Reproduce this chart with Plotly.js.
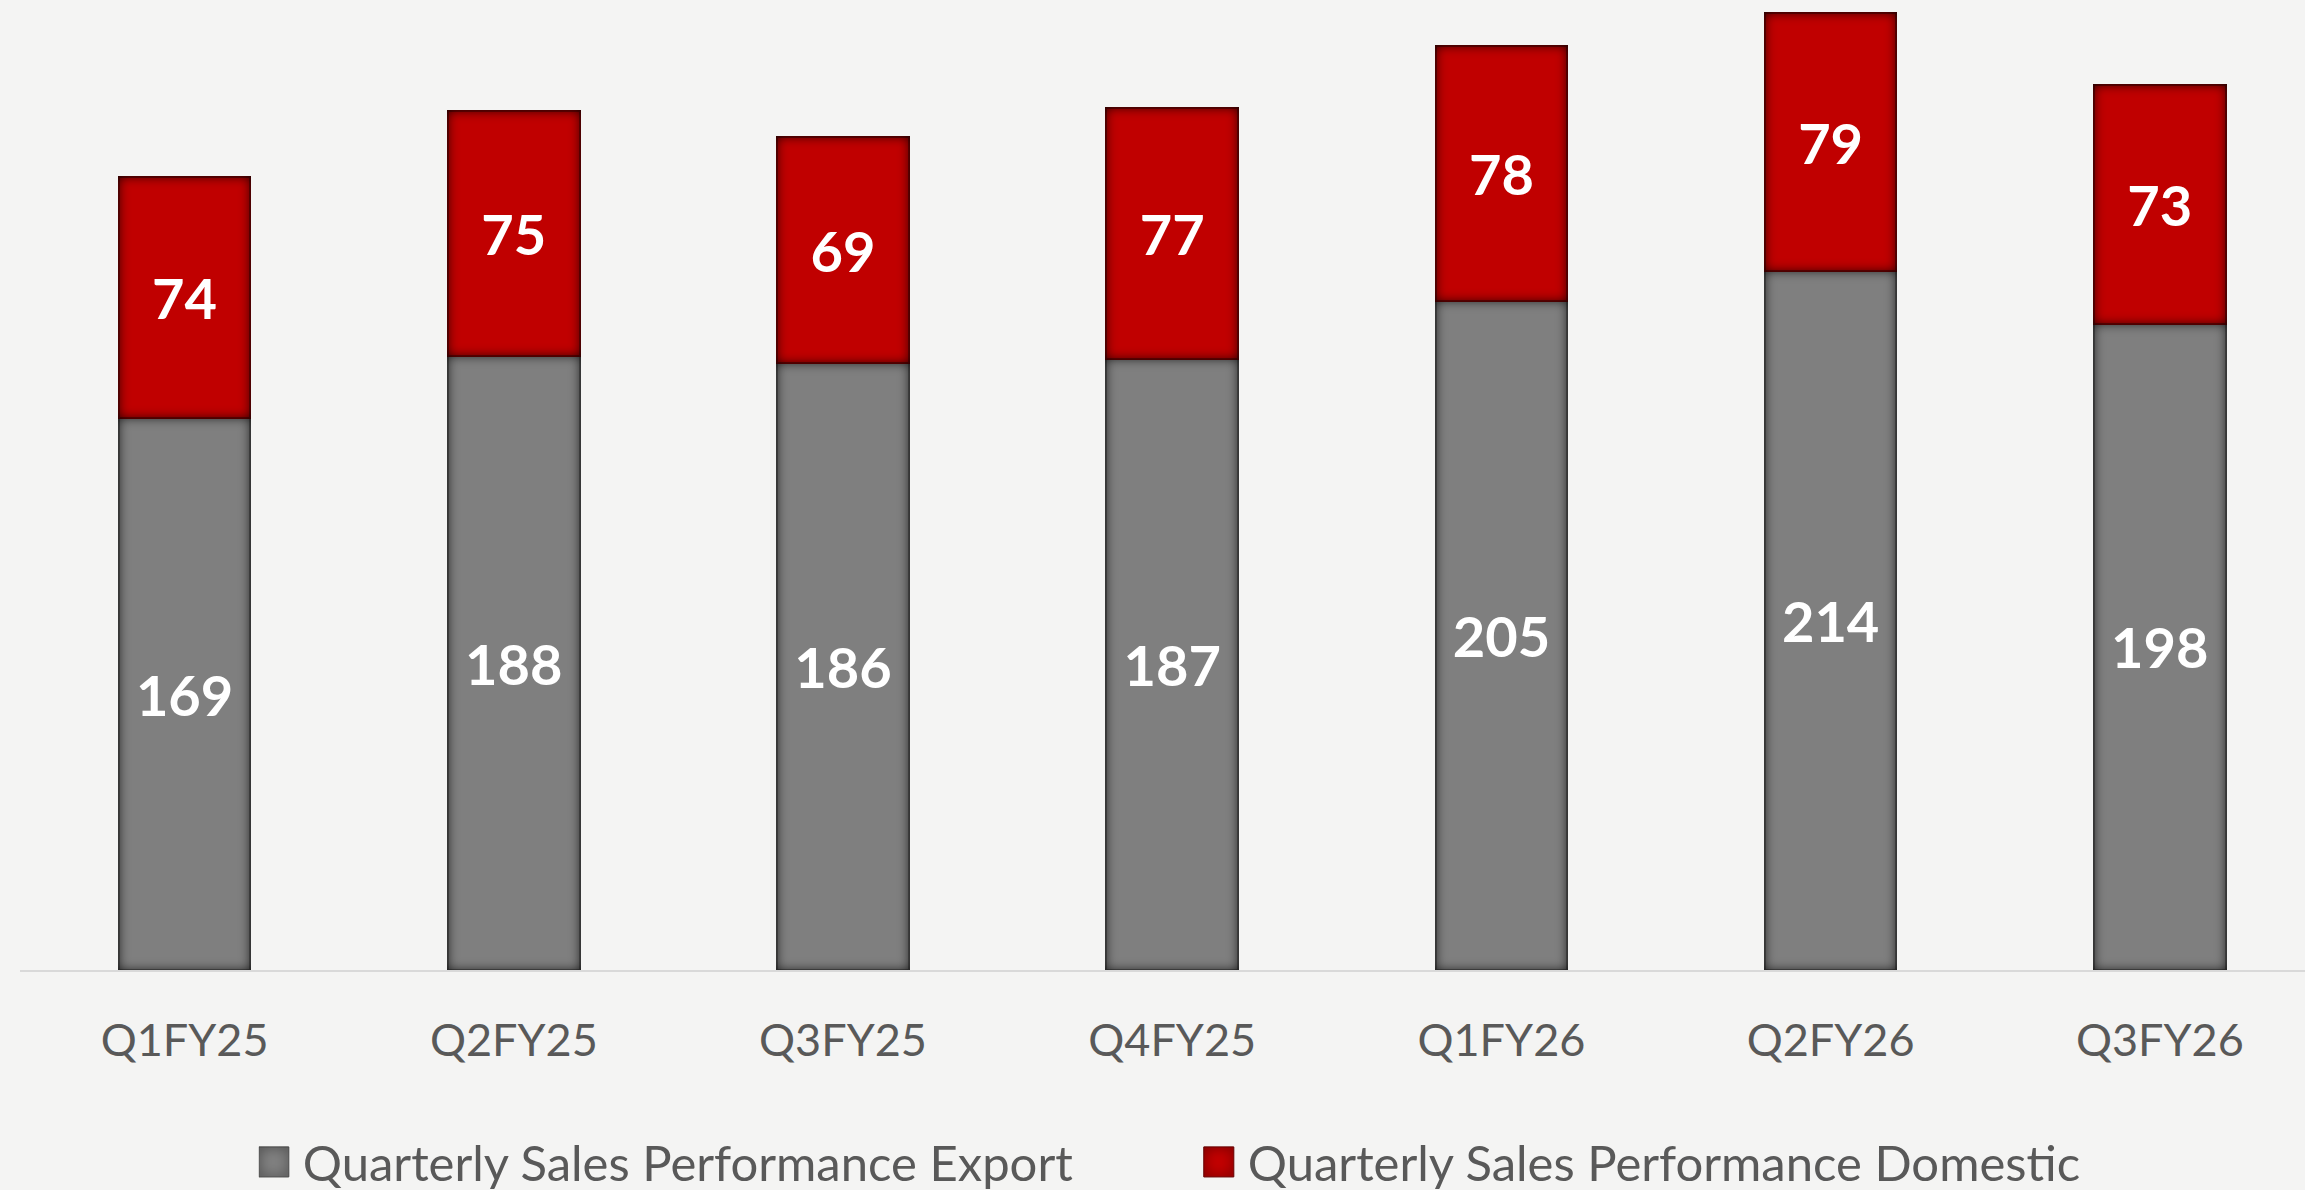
<!DOCTYPE html>
<html>
<head>
<meta charset="utf-8">
<script src="https://cdn.plot.ly/plotly-3.0.1.min.js"></script>
<style>
  html, body { margin: 0; padding: 0; background: #f4f4f3; }
  #chart { width: 2305px; height: 1190px; }
</style>
</head>
<body>
<svg width="0" height="0" style="position:absolute">
  <defs>
    <filter id="insetShadow" x="-10%" y="-10%" width="120%" height="120%" color-interpolation-filters="sRGB">
      <feFlood flood-color="#000000" flood-opacity="0.85" result="flood"/>
      <feComposite in="flood" in2="SourceAlpha" operator="out" result="outside"/>
      <feGaussianBlur in="outside" stdDeviation="6" result="blur"/>
      <feComposite in="blur" in2="SourceAlpha" operator="in" result="inner"/>
      <feMerge><feMergeNode in="SourceGraphic"/><feMergeNode in="inner"/></feMerge>
    </filter>
  </defs>
</svg>
<div id="chart"></div>
<script>
const quarters = ["Q1FY25", "Q2FY25", "Q3FY25", "Q4FY25", "Q1FY26", "Q2FY26", "Q3FY26"];
const exportSales = [169, 188, 186, 187, 205, 214, 198];
const domesticSales = [74, 75, 69, 77, 78, 79, 73];
const seriesNames = ["Quarterly Sales Performance Export", "Quarterly Sales Performance Domestic"];

const FONT = "Lato, 'Open Sans', 'DejaVu Sans', sans-serif";

const traces = [
  {
    type: "bar",
    name: seriesNames[0],
    x: quarters,
    y: exportSales,
    text: exportSales.map(String),
    textposition: "inside",
    insidetextanchor: "middle",
    textangle: 0,
    constraintext: "none",
    textfont: { family: FONT, size: 56, color: "#ffffff", weight: 700 },
    marker: { color: "#7f7f7f", line: { color: "#5a5a5a", width: 2 } },
    hoverinfo: "skip"
  },
  {
    type: "bar",
    name: seriesNames[1],
    x: quarters,
    y: domesticSales,
    text: domesticSales.map(String),
    textposition: "inside",
    insidetextanchor: "middle",
    textangle: 0,
    constraintext: "none",
    textfont: { family: FONT, size: 56, color: "#ffffff", weight: 700 },
    marker: { color: "#c00000", line: { color: "#800000", width: 2 } },
    hoverinfo: "skip"
  }
];

const layout = {
  width: 2305,
  height: 1190,
  margin: { l: 20, r: 0, t: 0, b: 220, pad: 0, autoexpand: false },
  paper_bgcolor: "#f4f4f3",
  plot_bgcolor: "rgba(0,0,0,0)",
  barmode: "stack",
  bargap: 0.6,
  font: { family: FONT, color: "#595959" },
  xaxis: {
    type: "category",
    range: [-0.5, 6.441],
    showline: true,
    linecolor: "#d9d9d9",
    linewidth: 2,
    ticks: "",
    showgrid: false,
    zeroline: false,
    tickfont: { family: FONT, size: 45, color: "#595959" },
    ticklabelstandoff: 30,
    automargin: false,
    fixedrange: true
  },
  yaxis: {
    range: [0, 297.1],
    showgrid: false,
    zeroline: false,
    showline: false,
    showticklabels: false,
    ticks: "",
    automargin: false,
    fixedrange: true
  },
  showlegend: true,
  legend: {
    orientation: "h",
    x: 0.1045,
    xanchor: "left",
    y: -0.198,
    yanchor: "middle",
    entrywidth: 900,
    font: { family: FONT, size: 49, color: "#595959" },
    bgcolor: "rgba(0,0,0,0)",
    traceorder: "normal"
  }
};

Plotly.newPlot("chart", traces, layout, { displayModeBar: false, staticPlot: true }).then(function (gd) {
  gd.querySelectorAll("g.point path").forEach(function (p) {
    p.setAttribute("filter", "url(#insetShadow)");
    p.style.filter = "url(#insetShadow)";
  });
  gd.querySelectorAll(".legend .legendpoints path").forEach(function (p) {
    p.removeAttribute("transform");
    p.setAttribute("d", "M30,15H0V-15H30Z");
    p.style.strokeWidth = "1px";
    p.style.filter = "url(#insetShadow)";
  });
  gd.querySelectorAll(".legend .legendtext").forEach(function (t) {
    t.setAttribute("x", String(parseFloat(t.getAttribute("x") || "40") + 4));
  });
});
</script>
</body>
</html>
